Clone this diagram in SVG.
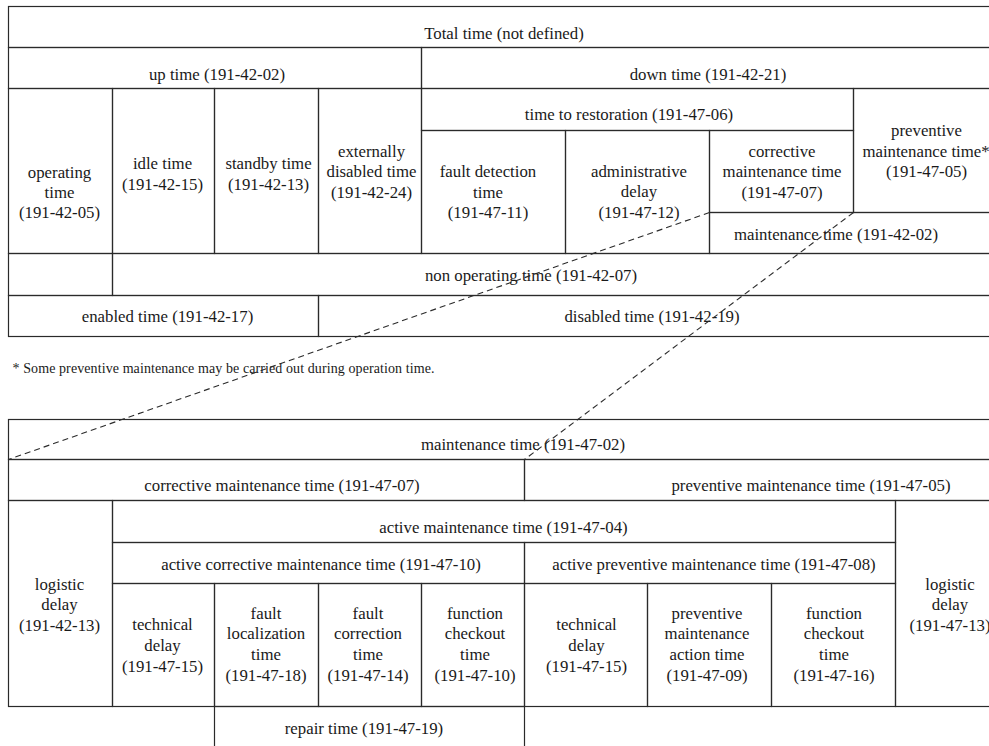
<svg xmlns="http://www.w3.org/2000/svg" width="989" height="746" viewBox="0 0 989 746">
  <style>
    .cell { fill: none; stroke: #2a2a2a; stroke-width: 1.2; }
    .t { font-family: "Liberation Serif", "DejaVu Serif", serif; font-size: 16.8px; fill: #1a1a1a; text-anchor: middle; }
    .note { font-family: "Liberation Serif", "DejaVu Serif", serif; font-size: 14px; fill: #1a1a1a; }
    .link { fill: none; stroke: #2a2a2a; stroke-width: 1.1; stroke-dasharray: 6 4; }
  </style>
  <rect width="989" height="746" fill="#ffffff"/>

  <!-- Upper breakdown: total time -->
  <g id="total-time"><rect class="cell" x="8.5" y="6.5" width="991.5" height="41"/><text class="t" x="504" y="39">Total time (not defined)</text></g>
  <g id="up-time"><rect class="cell" x="8.5" y="47.5" width="413" height="41"/><text class="t" x="217" y="79.5">up time (191-42-02)</text></g>
  <g id="down-time"><rect class="cell" x="421.5" y="47.5" width="578.5" height="41"/><text class="t" x="708" y="79.5">down time (191-42-21)</text></g>

  <g id="operating-time"><rect class="cell" x="8.5" y="88.5" width="104" height="165"/>
    <text class="t"><tspan x="59.5" y="178">operating</tspan><tspan x="59.5" y="198">time</tspan><tspan x="59.5" y="218">(191-42-05)</tspan></text></g>
  <g id="idle-time"><rect class="cell" x="112.5" y="88.5" width="102" height="165"/>
    <text class="t"><tspan x="162.5" y="169">idle time</tspan><tspan x="162.5" y="189.5">(191-42-15)</tspan></text></g>
  <g id="standby-time"><rect class="cell" x="214.5" y="88.5" width="104" height="165"/>
    <text class="t"><tspan x="268.5" y="169">standby time</tspan><tspan x="268.5" y="189.5">(191-42-13)</tspan></text></g>
  <g id="externally-disabled-time"><rect class="cell" x="318.5" y="88.5" width="103" height="165"/>
    <text class="t"><tspan x="371.5" y="157">externally</tspan><tspan x="371.5" y="177">disabled time</tspan><tspan x="371.5" y="197.5">(191-42-24)</tspan></text></g>

  <g id="time-to-restoration"><rect class="cell" x="421.5" y="88.5" width="432" height="42"/><text class="t" x="629" y="120">time to restoration (191-47-06)</text></g>
  <g id="fault-detection-time"><rect class="cell" x="421.5" y="130.5" width="144" height="123"/>
    <text class="t"><tspan x="488" y="177">fault detection</tspan><tspan x="488" y="197.5">time</tspan><tspan x="488" y="218">(191-47-11)</tspan></text></g>
  <g id="administrative-delay"><rect class="cell" x="565.5" y="130.5" width="144" height="123"/>
    <text class="t"><tspan x="639" y="177">administrative</tspan><tspan x="639" y="197">delay</tspan><tspan x="639" y="217.5">(191-47-12)</tspan></text></g>
  <g id="corrective-maintenance-time-top"><rect class="cell" x="709.5" y="130.5" width="144" height="82"/>
    <text class="t"><tspan x="782" y="157">corrective</tspan><tspan x="782" y="177">maintenance time</tspan><tspan x="782" y="197.5">(191-47-07)</tspan></text></g>
  <g id="preventive-maintenance-time-top"><rect class="cell" x="853.5" y="88.5" width="146.5" height="124"/>
    <text class="t"><tspan x="926.5" y="136">preventive</tspan><tspan x="926" y="156.5">maintenance time*</tspan><tspan x="926.5" y="177">(191-47-05)</tspan></text></g>
  <g id="maintenance-time-top"><rect class="cell" x="709.5" y="212.5" width="290.5" height="41"/><text class="t" x="836" y="240">maintenance time (191-42-02)</text></g>

  <g id="operating-spacer"><rect class="cell" x="8.5" y="253.5" width="104" height="42"/></g>
  <g id="non-operating-time"><rect class="cell" x="112.5" y="253.5" width="887.5" height="42"/><text class="t" x="531" y="281">non operating time (191-42-07)</text></g>
  <g id="enabled-time"><rect class="cell" x="8.5" y="295.5" width="310" height="41"/><text class="t" x="167.5" y="322">enabled time (191-42-17)</text></g>
  <g id="disabled-time"><rect class="cell" x="318.5" y="295.5" width="681.5" height="41"/><text class="t" x="652" y="322">disabled time (191-42-19)</text></g>

  <g id="footnote"><text class="note" x="12.5" y="373" textLength="422" lengthAdjust="spacing">* Some preventive maintenance may be carried out during operation time.</text></g>

  <!-- Lower breakdown: maintenance time -->
  <g id="maintenance-time"><rect class="cell" x="8.5" y="419.5" width="991.5" height="40"/><text class="t" x="523" y="450">maintenance time (191-47-02)</text></g>
  <g id="corrective-maintenance-time"><rect class="cell" x="8.5" y="459.5" width="516" height="41"/><text class="t" x="282" y="490.5">corrective maintenance time (191-47-07)</text></g>
  <g id="preventive-maintenance-time"><rect class="cell" x="524.5" y="459.5" width="475.5" height="41"/><text class="t" x="811" y="490.5">preventive maintenance time (191-47-05)</text></g>

  <g id="logistic-delay-corrective"><rect class="cell" x="8.5" y="500.5" width="104" height="206"/>
    <text class="t"><tspan x="59.5" y="590">logistic</tspan><tspan x="59.5" y="610">delay</tspan><tspan x="59.5" y="630.5">(191-42-13)</tspan></text></g>
  <g id="active-maintenance-time"><rect class="cell" x="112.5" y="500.5" width="783" height="42"/><text class="t" x="503.5" y="533">active maintenance time (191-47-04)</text></g>
  <g id="active-corrective-maintenance-time"><rect class="cell" x="112.5" y="542.5" width="412" height="41"/><text class="t" x="321" y="569.5">active corrective maintenance time (191-47-10)</text></g>
  <g id="active-preventive-maintenance-time"><rect class="cell" x="524.5" y="542.5" width="371" height="41"/><text class="t" x="714" y="569.5">active preventive maintenance time (191-47-08)</text></g>

  <g id="technical-delay-corrective"><rect class="cell" x="112.5" y="583.5" width="102" height="123"/>
    <text class="t"><tspan x="162.5" y="630">technical</tspan><tspan x="162.5" y="650.5">delay</tspan><tspan x="162.5" y="671.5">(191-47-15)</tspan></text></g>
  <g id="fault-localization-time"><rect class="cell" x="214.5" y="583.5" width="104" height="123"/>
    <text class="t"><tspan x="266" y="618.5">fault</tspan><tspan x="266" y="639">localization</tspan><tspan x="266" y="659.5">time</tspan><tspan x="266" y="680.5">(191-47-18)</tspan></text></g>
  <g id="fault-correction-time"><rect class="cell" x="318.5" y="583.5" width="103" height="123"/>
    <text class="t"><tspan x="368" y="618.5">fault</tspan><tspan x="368" y="639">correction</tspan><tspan x="368" y="659.5">time</tspan><tspan x="368" y="680.5">(191-47-14)</tspan></text></g>
  <g id="function-checkout-time-corrective"><rect class="cell" x="421.5" y="583.5" width="103" height="123"/>
    <text class="t"><tspan x="475" y="618.5">function</tspan><tspan x="475" y="639">checkout</tspan><tspan x="475" y="659.5">time</tspan><tspan x="475" y="680.5">(191-47-10)</tspan></text></g>
  <g id="technical-delay-preventive"><rect class="cell" x="524.5" y="583.5" width="123" height="123"/>
    <text class="t"><tspan x="586.5" y="630">technical</tspan><tspan x="586.5" y="650.5">delay</tspan><tspan x="586.5" y="671.5">(191-47-15)</tspan></text></g>
  <g id="preventive-maintenance-action-time"><rect class="cell" x="647.5" y="583.5" width="124" height="123"/>
    <text class="t"><tspan x="707" y="618.5">preventive</tspan><tspan x="707" y="639">maintenance</tspan><tspan x="707" y="659.5">action time</tspan><tspan x="707" y="680.5">(191-47-09)</tspan></text></g>
  <g id="function-checkout-time-preventive"><rect class="cell" x="771.5" y="583.5" width="124" height="123"/>
    <text class="t"><tspan x="834" y="618.5">function</tspan><tspan x="834" y="639">checkout</tspan><tspan x="834" y="659.5">time</tspan><tspan x="834" y="680.5">(191-47-16)</tspan></text></g>
  <g id="logistic-delay-preventive"><rect class="cell" x="895.5" y="500.5" width="104.5" height="206"/>
    <text class="t"><tspan x="950" y="590">logistic</tspan><tspan x="950" y="610">delay</tspan><tspan x="950" y="630.5">(191-47-13)</tspan></text></g>

  <g id="repair-time"><rect class="cell" x="214.5" y="706.5" width="310" height="60"/><text class="t" x="364" y="733.5">repair time (191-47-19)</text></g>

  <!-- Dashed links from the maintenance-time cell to the expanded table -->
  <g id="connectors">
    <line class="link" x1="709.5" y1="212.5" x2="8.5" y2="459.5"/>
    <line class="link" x1="853.5" y1="212.5" x2="524.5" y2="459.5"/>
  </g>
</svg>
